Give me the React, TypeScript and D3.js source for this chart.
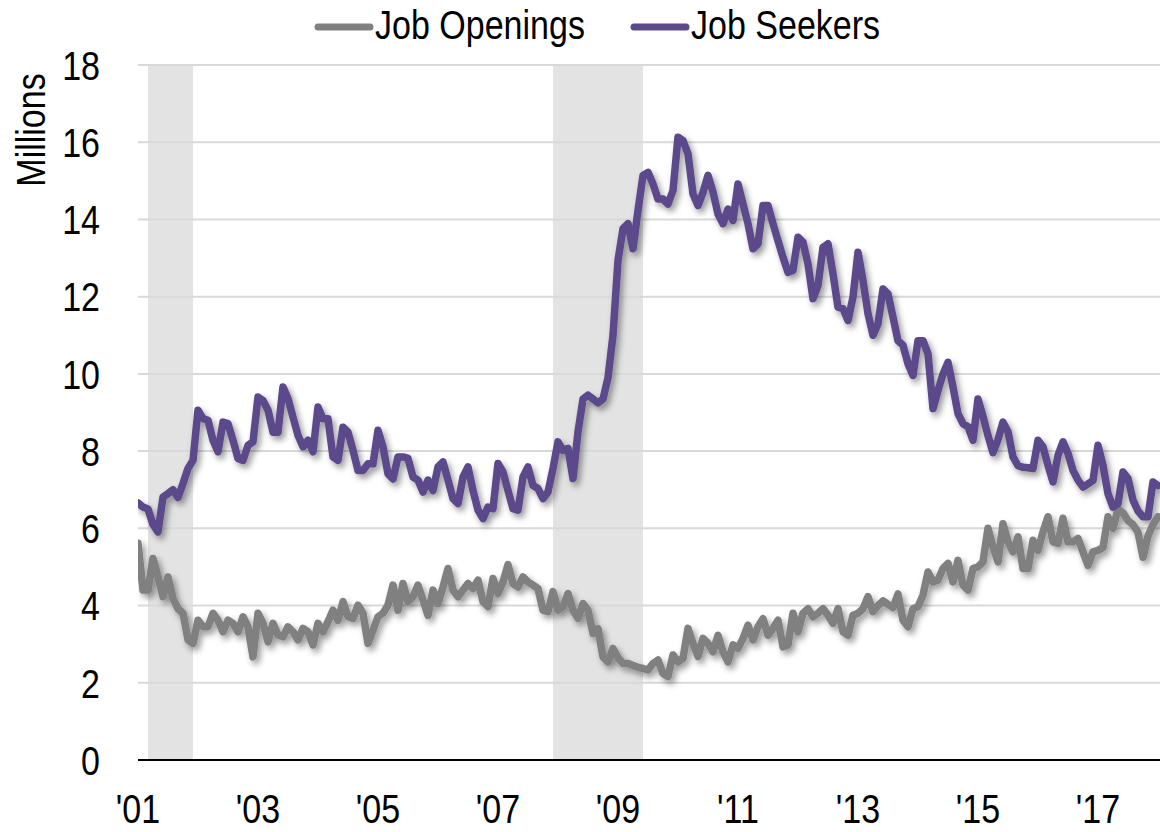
import React from "react";
import * as d3 from "d3";

// monthly values, Jan 2001 onward (millions), one row per year
const jobOpenings = [
  5.61, 4.4, 4.4, 5.22, 4.74, 4.23, 4.74, 4.18, 3.92, 3.8, 3.11, 3.02,
  3.62, 3.45, 3.45, 3.8, 3.62, 3.32, 3.62, 3.54, 3.32, 3.71, 3.45, 2.67,
  3.8, 3.54, 3.06, 3.54, 3.24, 3.19, 3.45, 3.32, 3.11, 3.41, 3.32, 2.98,
  3.54, 3.32, 3.58, 3.88, 3.62, 4.1, 3.71, 3.67, 4.01, 3.8, 3.02, 3.36,
  3.71, 3.8, 4.01, 4.53, 3.88, 4.57, 4.1, 4.23, 4.53, 4.14, 3.75, 4.4,
  4.05, 4.48, 4.96, 4.4, 4.23, 4.4, 4.57, 4.44, 4.66, 4.1, 3.97, 4.7,
  4.31, 4.61, 5.06, 4.57, 4.48, 4.74, 4.61, 4.53, 4.44, 3.88, 3.84, 4.36,
  3.88, 3.97, 4.31, 3.88, 3.67, 4.05, 3.88, 3.28, 3.4, 2.67, 2.54, 2.89,
  2.65, 2.5, 2.5, 2.45, 2.4, 2.37, 2.33, 2.5, 2.59, 2.24, 2.16, 2.72,
  2.54, 2.63, 3.41, 3.02, 2.68, 3.15, 3.02, 2.8, 3.23, 2.8, 2.54, 2.98,
  2.89, 3.15, 3.49, 3.11, 3.45, 3.66, 3.23, 3.41, 3.62, 2.93, 2.98, 3.8,
  3.32, 3.8, 3.92, 3.71, 3.8, 3.92, 3.75, 3.54, 3.92, 3.32, 3.23, 3.75,
  3.8, 3.92, 4.23, 3.84, 4.0, 4.12, 4.03, 3.95, 4.3, 3.62, 3.45, 3.92,
  3.97, 4.27, 4.87, 4.61, 4.66, 4.96, 5.09, 4.61, 5.17, 4.53, 4.4, 4.96,
  5.0, 5.13, 6.0, 5.52, 5.13, 6.12, 5.65, 5.39, 5.78, 4.96, 4.96, 5.69,
  5.43, 5.91, 6.3, 5.65, 5.61, 6.26, 5.65, 5.65, 5.74, 5.39, 5.04, 5.39,
  5.43, 5.5, 6.3, 6.0, 6.5, 6.4, 6.2, 6.1, 5.9, 5.25, 5.8, 6.1,
  6.3,
];

const jobSeekers = [
  6.66, 6.55, 6.5, 6.1, 5.91, 6.81, 6.9, 7.0, 6.8, 7.16, 7.55, 7.76,
  9.06, 8.84, 8.8, 8.28, 7.98, 8.75, 8.71, 8.28, 7.81, 7.76, 8.15, 8.24,
  9.4, 9.31, 9.06, 8.49, 8.49, 9.66, 9.36, 8.88, 8.41, 8.11, 8.28, 7.98,
  9.14, 8.84, 8.84, 7.85, 7.76, 8.62, 8.49, 8.02, 7.5, 7.5, 7.67, 7.67,
  8.54, 8.11, 7.41, 7.28, 7.85, 7.85, 7.81, 7.33, 7.25, 6.94, 7.25, 6.98,
  7.59, 7.72, 7.25, 6.77, 6.64, 7.33, 7.59, 6.98, 6.47, 6.25, 6.55, 6.51,
  7.68, 7.46, 6.98, 6.51, 6.47, 7.33, 7.59, 7.11, 7.03, 6.77, 6.94, 7.55,
  8.24, 8.02, 8.07, 7.29, 8.5, 9.35, 9.45, 9.35, 9.25, 9.35, 9.9, 11.0,
  12.94, 13.76, 13.89, 13.24, 14.23, 15.14, 15.22, 14.92, 14.53, 14.53, 14.4, 14.75,
  16.13, 16.04, 15.7, 14.66, 14.36, 14.7, 15.14, 14.71, 14.14, 13.89, 14.27, 13.97,
  14.92, 14.4, 13.89, 13.24, 13.37, 14.36, 14.36, 13.89, 13.45, 13.02, 12.63, 12.68,
  13.54, 13.41, 12.85, 11.95, 12.29, 13.28, 13.37, 12.59, 11.73, 11.69, 11.38, 11.99,
  13.15, 12.42, 11.56, 11.0, 11.3, 12.2, 12.07, 11.47, 10.86, 10.74, 10.26, 9.96,
  10.86, 10.86, 10.52, 9.1, 9.57, 10.0, 10.3, 9.66, 8.97, 8.71, 8.63, 8.28,
  9.35, 8.9, 8.4, 7.96, 8.3, 8.75, 8.5, 7.85, 7.62, 7.58, 7.57, 7.55,
  8.28, 8.11, 7.63, 7.2, 7.89, 8.24, 7.94, 7.5, 7.25, 7.07, 7.15, 7.24,
  8.15, 7.63, 6.9, 6.55, 6.64, 7.46, 7.29, 6.73, 6.45, 6.3, 6.3, 7.2,
  7.11,
];

const startYear = 2001;
const tickYears = [2001, 2003, 2005, 2007, 2009, 2011, 2013, 2015, 2017];
const yTicks = [0, 2, 4, 6, 8, 10, 12, 14, 16, 18];
// recession shading, [start month, end month]
const recessions = [
  ["2001-03", "2001-12"],
  ["2007-12", "2009-06"],
];
const seriesNames = ["Job Openings", "Job Seekers"];
const seriesColors = ["#808080", "#5b4a8b"];

const W = 1160;
const H = 832;
const left = 138;
const top = 65;
const bottom = 760;
const FONT = "'Liberation Sans', Arial, sans-serif";
const SX = 0.83; // narrow face look

const monthToYear = (s: string) => {
  const [y, m] = s.split("-").map(Number);
  return y + (m - 1) / 12;
};

export default function App() {
  const x = d3.scaleLinear().domain([2001, 2018]).range([left, left + 17 * 60]);
  const y = d3.scaleLinear().domain([0, 18]).range([bottom, top]);

  const line = d3
    .line<number>()
    .x((_, i) => x(startYear + i / 12))
    .y((d) => y(d))
    .curve(d3.curveLinear);

  const series = [jobOpenings, jobSeekers];

  return (
    <svg
      width={W}
      height={H}
      style={{ position: "absolute", left: 0, top: 0, background: "#fff" }}
      fontFamily={FONT}
    >
      <defs>
        <filter id="shadow" x="-5%" y="-5%" width="110%" height="120%">
          <feDropShadow dx="3" dy="4" stdDeviation="3" floodColor="#000" floodOpacity="0.4" />
        </filter>
        <clipPath id="plot">
          <rect x={left} y={0} width={W - left} height={H} />
        </clipPath>
      </defs>

      {recessions.map(([a, b], i) => (
        <rect
          key={i}
          x={x(monthToYear(a))}
          y={y(18)}
          width={x(monthToYear(b)) - x(monthToYear(a))}
          height={y(0) - y(18)}
          fill="#e3e3e3"
        />
      ))}

      {yTicks.slice(1).map((t) => (
        <line key={t} x1={left} x2={W} y1={y(t)} y2={y(t)} stroke="#d9d9d9" strokeWidth={2} />
      ))}

      {yTicks.map((t) => (
        <text
          key={t}
          transform={`translate(100,${y(t)}) scale(${SX},1)`}
          dy="0.36em"
          textAnchor="end"
          fontSize={41}
          fill="#000"
        >
          {t}
        </text>
      ))}

      <text
        transform={`translate(45,130) rotate(-90) scale(${SX},1)`}
        textAnchor="middle"
        fontSize={41}
        fill="#000"
      >
        Millions
      </text>

      {tickYears.map((t) => (
        <text
          key={t}
          transform={`translate(${x(t)},823) scale(${SX},1)`}
          textAnchor="middle"
          fontSize={41}
          fill="#000"
        >
          {"'" + String(t).slice(2)}
        </text>
      ))}

      <g clipPath="url(#plot)" filter="url(#shadow)">
        {series.map((s, i) => (
          <path
            key={i}
            d={line(s) || ""}
            fill="none"
            stroke={seriesColors[i]}
            strokeWidth={7.5}
            strokeLinejoin="round"
            strokeLinecap="round"
          />
        ))}
      </g>

      <line x1={left} x2={W} y1={y(0)} y2={y(0)} stroke="#000" strokeWidth={2} />

      {seriesNames.map((n, i) => {
        const lx = i === 0 ? 318 : 634;
        return (
          <g key={n}>
            <line x1={lx} x2={lx + 52} y1={27} y2={27} stroke={seriesColors[i]} strokeWidth={7} strokeLinecap="round" />
            <text transform={`translate(${lx + 57},39) scale(${SX},1)`} fontSize={41} fill="#000">
              {n}
            </text>
          </g>
        );
      })}
    </svg>
  );
}
